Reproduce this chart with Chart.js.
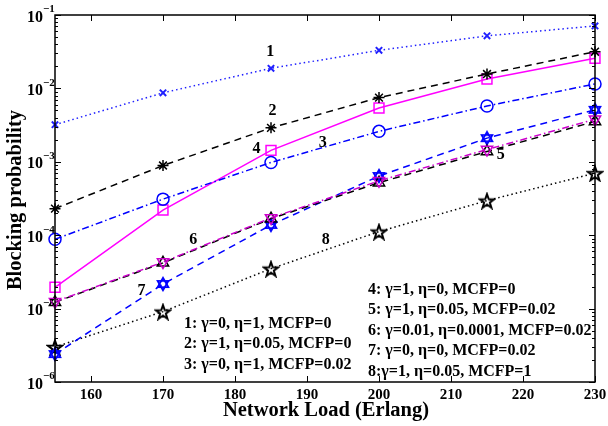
<!DOCTYPE html>
<html>
<head>
<meta charset="utf-8">
<script src="https://cdn.jsdelivr.net/npm/chart.js@4/dist/chart.umd.min.js"></script>
<style>
  html, body { margin: 0; padding: 0; background: #fff; }
  canvas { display: block; }
</style>
</head>
<body>
<canvas id="chart" width="608" height="426"></canvas>
<script>
// ===== data =====
const loads  = [155, 170, 185, 200, 215, 230];
const curve1 = [3.2e-3, 8.7e-3, 1.88e-2, 3.3e-2, 5.2e-2, 7.1e-2];
const curve2 = [2.3e-4, 8.9e-4, 2.9e-3, 7.5e-3, 1.57e-2, 3.16e-2];
const curve3 = [8.8e-5, 3.1e-4, 9.8e-4, 2.6e-3, 5.75e-3, 1.15e-2];
const curve4 = [1.95e-5, 2.2e-4, 1.43e-3, 5.4e-3, 1.34e-2, 2.57e-2];
const curve5 = [1.24e-5, 4.3e-5, 1.72e-4, 5.5e-4, 1.47e-3, 3.8e-3];
const curve6 = [1.22e-5, 4.2e-5, 1.68e-4, 5.2e-4, 1.38e-3, 3.55e-3];
const curve7 = [2.4e-6, 2.16e-5, 1.38e-4, 6.4e-4, 2.1e-3, 5.1e-3];
const curve8 = [3.0e-6, 9.1e-6, 3.5e-5, 1.12e-4, 2.96e-4, 7.0e-4];

const xTicks = [160, 170, 180, 190, 200, 210, 220, 230];
const yDecades = [-6, -5, -4, -3, -2, -1];

// curve numbers, placed in data coordinates
const curveTags = [
    { text: '1', x: 184.9, y: 3.1e-2 },
    { text: '2', x: 185.2, y: 5.0e-3 },
    { text: '3', x: 192.2, y: 1.8e-3 },
    { text: '4', x: 183.0, y: 1.49e-3 },
    { text: '5', x: 216.9, y: 1.26e-3 },
    { text: '6', x: 174.2, y: 8.6e-5 },
    { text: '7', x: 167.0, y: 1.72e-5 },
    { text: '8', x: 192.6, y: 8.6e-5 }
];

const notesLeft = [
    '1: γ=0, η=1, MCFP=0',
    '2: γ=1, η=0.05, MCFP=0',
    '3: γ=0, η=1, MCFP=0.02'
];
const notesRight = [
    '4: γ=1, η=0, MCFP=0',
    '5: γ=1, η=0.05, MCFP=0.02',
    '6: γ=0.01, η=0.0001, MCFP=0.02',
    '7: γ=0, η=0, MCFP=0.02',
    '8:γ=1, η=0.05, MCFP=1'
];

const SERIF = '"Liberation Serif", "DejaVu Serif", serif';

// ===== custom markers =====
function makeMarker(size, draw) {
    const c = document.createElement('canvas');
    c.width = c.height = size;
    const g = c.getContext('2d');
    draw(g, size / 2);
    return c;
}

const hexagram = makeMarker(16, (g, c) => {
    g.strokeStyle = '#0000ff';
    g.lineWidth = 1.8;
    const R = 6.2;
    [[-90, 30, 150], [90, 210, 330]].forEach(angles => {
        g.beginPath();
        angles.forEach((a, i) => {
            const r = a * Math.PI / 180;
            const px = c + R * Math.cos(r), py = c + R * Math.sin(r);
            i ? g.lineTo(px, py) : g.moveTo(px, py);
        });
        g.closePath();
        g.stroke();
    });
});

const pentagram = makeMarker(18, (g, c) => {
    g.strokeStyle = '#000';
    g.lineWidth = 2;
    g.lineJoin = 'miter';
    const R = 7.5, r = 3.0;
    g.beginPath();
    for (let i = 0; i < 10; i++) {
        const a = (-90 + i * 36) * Math.PI / 180;
        const rad = i % 2 ? r : R;
        const px = c + rad * Math.cos(a), py = c + 1 + rad * Math.sin(a);
        i ? g.lineTo(px, py) : g.moveTo(px, py);
    }
    g.closePath();
    g.stroke();
});

function series(data, color, dash, style, radius, extra) {
    return Object.assign({
        data: data.map((v, i) => ({ x: loads[i], y: v })),
        borderColor: color,
        borderWidth: 1.5,
        borderDash: dash,
        pointStyle: style,
        pointRadius: radius,
        pointHoverRadius: radius,
        pointBorderColor: color,
        pointBorderWidth: 1.5,
        pointBackgroundColor: 'rgba(0,0,0,0)',
        tension: 0,
        fill: false,
        clip: false
    }, extra || {});
}

const DOT = [1.5, 3];
const DASH = [7, 5];
const DASHDOT = [7, 3, 1.5, 3];

const datasets = [
    series(curve1, '#2020ff', DOT, 'crossRot', 4.5, { pointBorderWidth: 2 }),
    series(curve2, '#000000', DASH, 'star', 5.5),
    series(curve3, '#0000ff', DASHDOT, 'circle', 6),
    series(curve4, '#ff00ff', [], 'rect', 7),
    series(curve5, '#cc00cc', DASHDOT, 'triangle', 6.5, { pointRotation: 180 }),
    series(curve6, '#000000', DASH, 'triangle', 6.5),
    series(curve7, '#0000ff', DASH, hexagram, 7),
    series(curve8, '#000000', DOT, pentagram, 8)
];

// ===== frame, inner ticks, texts =====
const decorations = {
    id: 'decorations',
    afterDraw(chart) {
        const { ctx, chartArea: a, scales: { x, y } } = chart;
        ctx.save();

        // inner tick marks
        ctx.strokeStyle = '#000';
        ctx.lineWidth = 1;
        ctx.beginPath();
        yDecades.forEach(k => {
            for (let m = 1; m <= 9; m++) {
                const v = m * Math.pow(10, k);
                if (v > y.max * 1.0001) break;
                const py = Math.round(y.getPixelForValue(v)) + 0.5;
                const len = m === 1 ? 6 : 3;
                ctx.moveTo(a.left, py); ctx.lineTo(a.left + len, py);
                ctx.moveTo(a.right, py); ctx.lineTo(a.right - len, py);
            }
        });
        xTicks.forEach(t => {
            const px = Math.round(x.getPixelForValue(t)) + 0.5;
            ctx.moveTo(px, a.bottom); ctx.lineTo(px, a.bottom - 6);
            ctx.moveTo(px, a.top); ctx.lineTo(px, a.top + 6);
        });
        ctx.stroke();

        // frame
        ctx.lineWidth = 1.5;
        ctx.strokeRect(a.left, a.top, a.right - a.left, a.bottom - a.top);

        ctx.fillStyle = '#000';
        ctx.textBaseline = 'middle';

        // x tick labels
        ctx.font = 'bold 15px ' + SERIF;
        ctx.textAlign = 'center';
        xTicks.forEach(t => ctx.fillText(String(t), x.getPixelForValue(t), a.bottom + 13));

        // y tick labels 10^k
        yDecades.forEach(k => {
            const py = y.getPixelForValue(Math.pow(10, k));
            ctx.font = 'bold 16px ' + SERIF;
            ctx.textAlign = 'right';
            ctx.fillText('10', a.left - 12, py + 2.5);
            ctx.font = 'bold 11px ' + SERIF;
            ctx.textAlign = 'left';
            ctx.fillText('−' + (-k), a.left - 12, py - 5.5);
        });

        // axis titles
        ctx.font = 'bold 20.5px ' + SERIF;
        ctx.textAlign = 'center';
        ctx.fillText('Network Load (Erlang)', 326, 411);
        ctx.save();
        ctx.translate(16, 200);
        ctx.rotate(-Math.PI / 2);
        ctx.fillText('Blocking probability', 0, 0);
        ctx.restore();

        // curve numbers
        ctx.font = 'bold 16px ' + SERIF;
        curveTags.forEach(t => {
            ctx.fillText(t.text, x.getPixelForValue(t.x), y.getPixelForValue(t.y));
        });

        // parameter notes
        ctx.font = 'bold 16px ' + SERIF;
        ctx.textAlign = 'left';
        notesLeft.forEach((s, i) => ctx.fillText(s, 184, 323.5 + i * 20.5));
        notesRight.forEach((s, i) => ctx.fillText(s, 368, 289.5 + i * 20.5));

        ctx.restore();
    }
};

new Chart(document.getElementById('chart'), {
    type: 'line',
    data: { datasets },
    options: {
        responsive: false,
        animation: false,
        events: [],
        layout: { padding: { left: 0, top: 15, right: 13, bottom: 0 } },
        plugins: { legend: { display: false }, tooltip: { enabled: false } },
        scales: {
            x: {
                type: 'linear',
                min: 155,
                max: 230,
                grid: { display: false, drawTicks: false },
                border: { display: false },
                ticks: { display: false },
                afterFit: s => { s.height = 44; }
            },
            y: {
                type: 'logarithmic',
                min: 1e-6,
                max: 1e-1,
                grid: { display: false, drawTicks: false },
                border: { display: false },
                ticks: { display: false },
                afterFit: s => { s.width = 55; }
            }
        }
    },
    plugins: [decorations]
});
</script>
</body>
</html>
